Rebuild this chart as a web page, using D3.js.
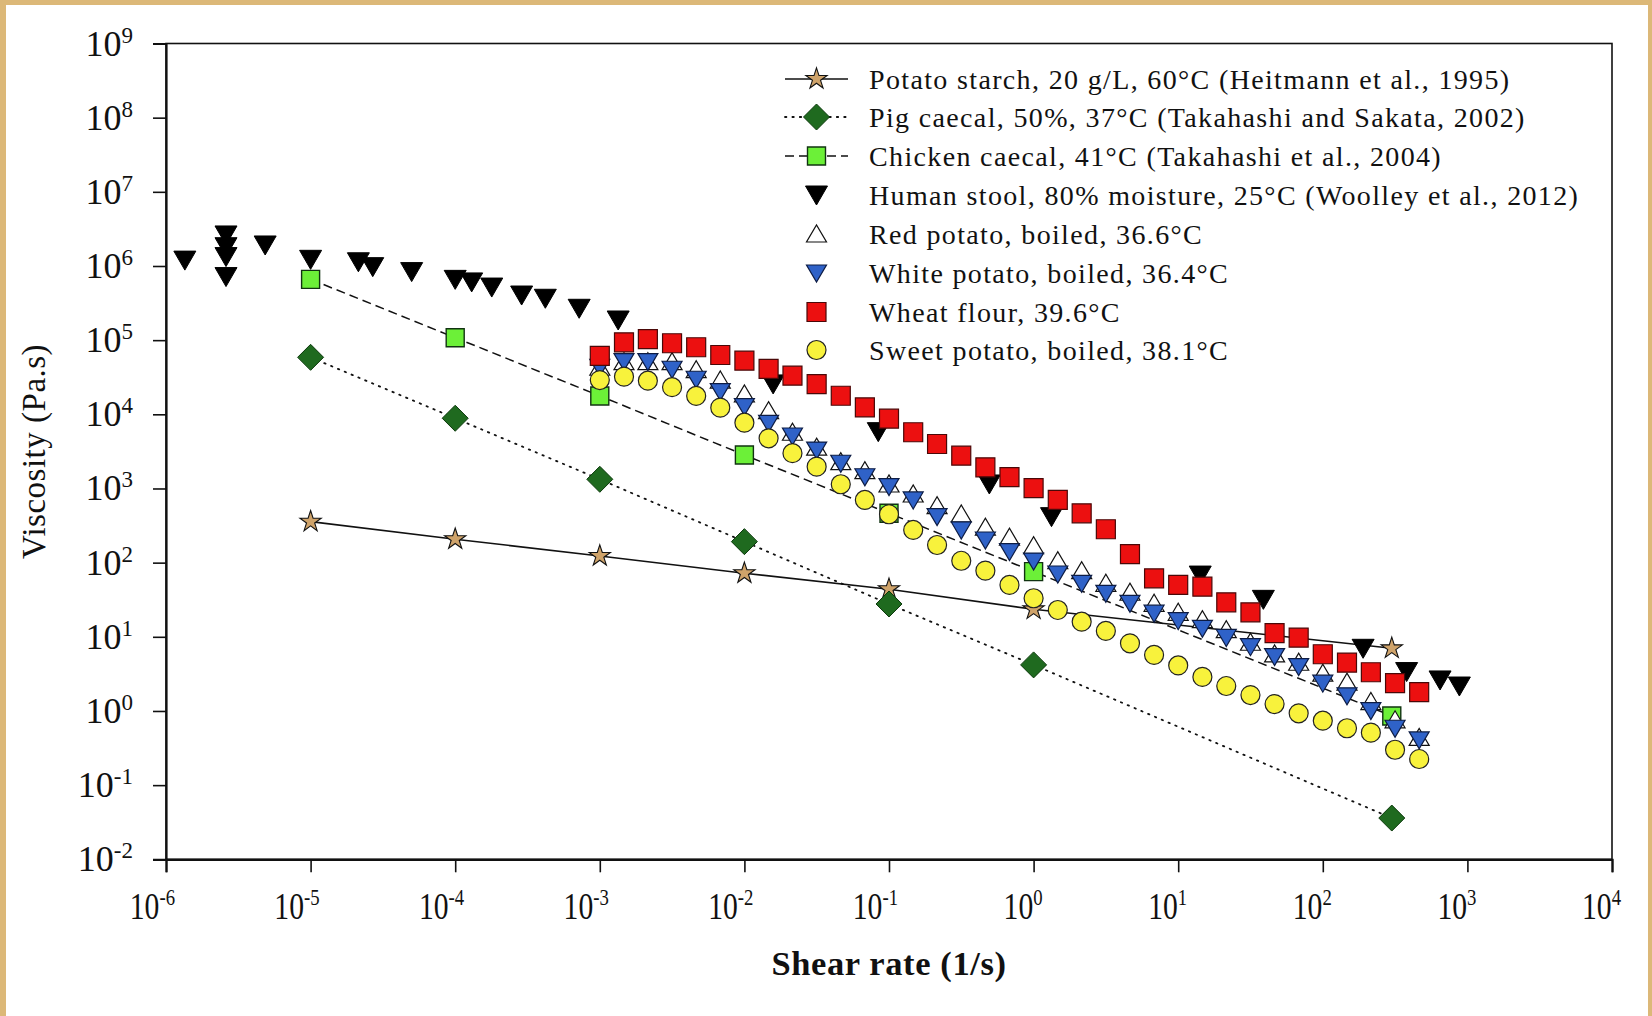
<!DOCTYPE html>
<html>
<head>
<meta charset="utf-8">
<script src="https://cdn.jsdelivr.net/npm/d3@7"></script>
<style>
  html, body { margin: 0; padding: 0; background: #fff; }
  svg { display: block; }
  text { font-family: "Liberation Serif", "Times New Roman", serif; fill: #111; }
</style>
</head>
<body>
<svg id="chart" width="1652" height="1016"></svg>
<script>
// ---------------- data ----------------
// literature curves (shear rate in 1/s, viscosity in Pa.s)
const litShear      = [1e-5, 1e-4, 1e-3, 1e-2, 1e-1, 1, 300];
const potatoStarch  = [357, 207, 123, 72, 43.8, 23.5, 7.0];
const pigCaecal     = [58700, 8850, 1330, 192, 27.7, 4.18, 0.036];
const chickenCaecal = [661000, 108000, 17700, 2830, 463, 75.7, 0.857];

// human stool
const stoolShear = [1.35e-6, 2.6e-6, 2.6e-6, 2.6e-6, 2.6e-6, 4.85e-6, 1e-5, 2.14e-5, 2.69e-5,
  5.0e-5, 1.0e-4, 1.3e-4, 1.79e-4, 2.88e-4, 4.2e-4, 7.2e-4, 1.34e-3, 1.58e-2, 8.43e-2,
  0.494, 1.33, 14.2, 38.8, 190, 380, 647, 880];
const humanStool = [1.2e6, 2.62e6, 1.82e6, 1.34e6, 7.2e5, 1.92e6, 1.23e6, 1.14e6, 9.8e5,
  8.4e5, 6.6e5, 6.1e5, 5.2e5, 4.06e5, 3.67e5, 2.69e5, 1.87e5, 2.57e4, 5840,
  1150, 417, 68, 32, 7.0, 3.4, 2.62, 2.17];

// food boluses, common shear-rate sweep
const foodShear = [0.001, 0.00147, 0.00215, 0.00316, 0.00464, 0.00681,
  0.01, 0.0147, 0.0215, 0.0316, 0.0464, 0.0681,
  0.1, 0.147, 0.215, 0.316, 0.464, 0.681,
  1, 1.47, 2.15, 3.16, 4.64, 6.81,
  10, 14.7, 21.5, 31.6, 46.4, 68.1,
  100, 147, 215, 316, 464];
const redPotato = [43100, 51300, 51300, 51300, 40000, 29000, 18800, 11200, 5730, 3600, 2300, 1740,
  1150, 843, 586, 453, 300, 220, 169, 106, 78, 52.7, 39.9, 28.3, 21.4, 17, 12.5, 8.45,
  5.87, 4.54, 3.23, 2.44, 1.34, 0.76, 0.44];
const whitePotato = [43100, 51300, 51300, 40500, 29700, 20200, 12700, 7570, 5100, 3300, 2190, 1440,
  1060, 700, 417, 276, 202, 141, 105, 70.3, 52.7, 38.6, 28.3, 20.8, 16.5, 13.0, 9.8, 7.36,
  5.4, 3.96, 2.37, 1.6, 1.01, 0.585, 0.407];
const wheatFlour = [61200, 93600, 103000, 90800, 80200, 63100, 52900, 40900, 33200, 25600, 17800, 12400,
  8730, 5730, 3980, 2770, 1930, 1420, 1010, 700, 463, 282, 130, 61.5, 50, 47.4, 29.2, 21.4,
  11.2, 9.75, 5.82, 4.49, 3.33, 2.37, 1.79];
const sweetPotato = [29000, 32200, 28400, 23200, 17700, 12300, 7710, 4750, 2990, 1970, 1140, 700,
  449, 276, 173, 106, 78, 50, 33.1, 23, 16, 12, 8.18, 5.69, 4.11, 2.88, 2.17, 1.64,
  1.24, 0.93, 0.74, 0.585, 0.51, 0.30, 0.225];

// axis ticks (powers of ten)
const xTickExponents = [-6, -5, -4, -3, -2, -1, 0, 1, 2, 3, 4];
const yTickExponents = [-2, -1, 0, 1, 2, 3, 4, 5, 6, 7, 8, 9];

const legendLabels = [
  "Potato starch, 20 g/L, 60°C (Heitmann et al., 1995)",
  "Pig caecal, 50%, 37°C (Takahashi and Sakata, 2002)",
  "Chicken caecal, 41°C (Takahashi et al., 2004)",
  "Human stool, 80% moisture, 25°C (Woolley et al., 2012)",
  "Red potato, boiled, 36.6°C",
  "White potato, boiled, 36.4°C",
  "Wheat flour, 39.6°C",
  "Sweet potato, boiled, 38.1°C"
];

// ---------------- layout ----------------
const svg = d3.select("#chart");
const W = 1652, H = 1016;
const plot = { left: 166, right: 1612, top: 43.5, bottom: 859.3 };

const x = d3.scaleLog().domain([1e-6, 1e4]).range([plot.left, plot.right]);
const y = d3.scaleLog().domain([1e-2, 1e9]).range([plot.bottom, plot.top]);

// tan picture frame
svg.append("rect").attr("width", W).attr("height", H).attr("fill", "#fff");
const frame = svg.append("g").attr("fill", "#dcb878");
frame.append("rect").attr("x", 0).attr("y", 0).attr("width", W).attr("height", 5);
frame.append("rect").attr("x", 0).attr("y", 0).attr("width", 6).attr("height", H);
frame.append("rect").attr("x", W - 4).attr("y", 0).attr("width", 4).attr("height", H);

// plot box
svg.append("rect")
  .attr("x", plot.left).attr("y", plot.top)
  .attr("width", plot.right - plot.left).attr("height", plot.bottom - plot.top)
  .attr("fill", "none").attr("stroke", "#111").attr("stroke-width", 1.6);

// axes
const xAxis = d3.axisBottom(x)
  .tickValues(xTickExponents.map(e => Math.pow(10, e)))
  .tickSize(13).tickFormat("");
svg.append("g").attr("transform", `translate(0,${plot.bottom})`).call(xAxis)
  .call(g => g.select(".domain").attr("stroke-width", 2.2).attr("stroke", "#111"))
  .call(g => g.selectAll(".tick line").attr("stroke-width", 1.6).attr("stroke", "#111"));

const yAxis = d3.axisLeft(y)
  .tickValues(yTickExponents.map(e => Math.pow(10, e)))
  .tickSize(13).tickFormat("");
svg.append("g").attr("transform", `translate(${plot.left},0)`).call(yAxis)
  .call(g => g.select(".domain").attr("stroke-width", 2.2).attr("stroke", "#111"))
  .call(g => g.selectAll(".tick line").attr("stroke-width", 1.6).attr("stroke", "#111"));

// power-of-ten tick labels
function powerLabel(sel, exp, baseSize, supSize, supRise) {
  sel.append("tspan").text("10").attr("font-size", baseSize);
  sel.append("tspan").text(exp < 0 ? "-" + Math.abs(exp) : String(exp))
    .attr("font-size", supSize).attr("dy", -supRise);
}
xTickExponents.forEach(e => {
  const t = svg.append("text")
    .attr("text-anchor", "end")
    .attr("transform", `translate(${x(Math.pow(10, e)) + 9},919) scale(0.78,1)`);
  powerLabel(t, e, 38, 24, 14);
});
yTickExponents.forEach(e => {
  const t = svg.append("text")
    .attr("text-anchor", "end")
    .attr("x", 133).attr("y", y(Math.pow(10, e)) + 12);
  powerLabel(t, e, 36, 23, 13);
});

// axis titles
svg.append("text")
  .attr("x", (plot.left + plot.right) / 2).attr("y", 975)
  .attr("text-anchor", "middle").attr("font-size", 34.5).attr("font-weight", "bold")
  .attr("letter-spacing", 0.6)
  .text("Shear rate (1/s)");
svg.append("text")
  .attr("transform", `translate(45,${(plot.top + plot.bottom) / 2}) rotate(-90)`)
  .attr("text-anchor", "middle").attr("font-size", 33).attr("letter-spacing", 0.5)
  .text("Viscosity (Pa.s)");

// ---------------- marker shapes ----------------
const shapes = {
  star: () => d3.symbol(d3.symbolStar, 140)(),
  diamond: () => "M0,-13L13,0L0,13L-13,0Z",
  square: () => "M-9,-9H9V9H-9Z",
  bigSquare: () => "M-9.5,-9.5H9.5V9.5H-9.5Z",
  down: () => "M-11,-9L11,-9L0,10Z",
  downSmall: () => "M-10,-8L10,-8L0,9Z",
  up: () => "M-10,8L10,8L0,-9Z",
  circle: () => d3.symbol(d3.symbolCircle, Math.PI * 9.5 * 9.5)()
};

const series = [
  { name: legendLabels[0], xs: litShear, ys: potatoStarch, shape: "star", fill: "#cfa36a", stroke: "#111", sw: 1.1,
    line: { dash: null, width: 1.6 } },
  { name: legendLabels[1], xs: litShear, ys: pigCaecal, shape: "diamond", fill: "#1f6a1f", stroke: "#0c3a0c", sw: 1,
    line: { dash: "1.4 6", width: 1.8 } },
  { name: legendLabels[2], xs: litShear, ys: chickenCaecal, shape: "square", fill: "#6cf038", stroke: "#113311", sw: 1.4,
    line: { dash: "9 5", width: 1.5 } },
  { name: legendLabels[3], xs: stoolShear, ys: humanStool, shape: "down", fill: "#000", stroke: "#000", sw: 1 },
  { name: legendLabels[4], xs: foodShear, ys: redPotato, shape: "up", fill: "#fff", stroke: "#111", sw: 1.2 },
  { name: legendLabels[5], xs: foodShear, ys: whitePotato, shape: "downSmall", fill: "#2f62c8", stroke: "#0d1c44", sw: 1.2 },
  { name: legendLabels[6], xs: foodShear, ys: wheatFlour, shape: "bigSquare", fill: "#ec1010", stroke: "#4a0808", sw: 1.2 },
  { name: legendLabels[7], xs: foodShear, ys: sweetPotato, shape: "circle", fill: "#f8f23c", stroke: "#222", sw: 1.2 }
];

const plotG = svg.append("g");
series.forEach(s => {
  const pts = s.xs.map((v, i) => [v, s.ys[i]]);
  if (s.line) {
    plotG.append("path")
      .datum(pts)
      .attr("fill", "none").attr("stroke", "#111")
      .attr("stroke-width", s.line.width)
      .attr("stroke-dasharray", s.line.dash)
      .attr("stroke-linecap", s.line.dash && s.line.dash.startsWith("1.4") ? "round" : "butt")
      .attr("d", d3.line().x(d => x(d[0])).y(d => y(d[1])));
  }
  plotG.append("g").selectAll("path")
    .data(pts).join("path")
    .attr("transform", d => `translate(${x(d[0])},${y(d[1])})`)
    .attr("d", shapes[s.shape]())
    .attr("fill", s.fill).attr("stroke", s.stroke).attr("stroke-width", s.sw)
    .attr("stroke-linejoin", "miter");
});

// ---------------- legend ----------------
const legend = svg.append("g");
const rowY = [79, 117, 156, 195, 234, 273, 312, 350];
series.forEach((s, i) => {
  const g = legend.append("g").attr("transform", `translate(0,${rowY[i]})`);
  if (s.line) {
    g.append("line").attr("x1", 785).attr("x2", 848).attr("y1", 0).attr("y2", 0)
      .attr("stroke", "#111").attr("stroke-width", s.line.width)
      .attr("stroke-dasharray", s.line.dash)
      .attr("stroke-linecap", s.line.dash && s.line.dash.startsWith("1.4") ? "round" : "butt");
  }
  g.append("path").attr("transform", "translate(816.5,0)")
    .attr("d", shapes[s.shape]())
    .attr("fill", s.fill).attr("stroke", s.stroke).attr("stroke-width", s.sw);
  g.append("text").attr("x", 869).attr("y", 9.5)
    .attr("font-size", 28).attr("letter-spacing", 1.35)
    .text(s.name);
});
</script>
</body>
</html>
